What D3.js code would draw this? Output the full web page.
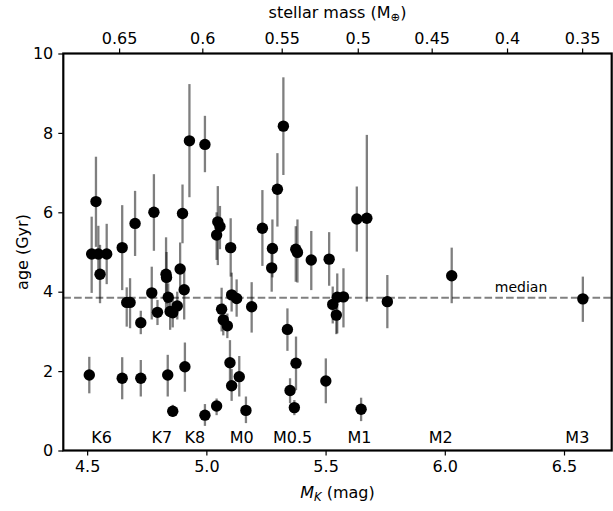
<!DOCTYPE html>
<html>
<head>
<meta charset="utf-8">
<script src="https://cdn.jsdelivr.net/npm/d3@7"></script>
<style>
  body { margin: 0; background: #fff; }
  text { font-family: "DejaVu Sans", sans-serif; }
</style>
</head>
<body>
<svg id="chart" width="613" height="511"></svg>
<script>
// ---- data ----
const mk = [4.509, 4.519, 4.537, 4.547, 4.554, 4.582, 4.647, 4.647, 4.666, 4.680,
            4.701, 4.725, 4.725, 4.771, 4.780, 4.795, 4.831, 4.833, 4.838, 4.840,
            4.848, 4.859, 4.859, 4.878, 4.890, 4.900, 4.907, 4.910, 4.929, 4.994,
            4.994, 5.043, 5.043, 5.048, 5.057, 5.064, 5.071, 5.088, 5.099, 5.102,
            5.106, 5.106, 5.127, 5.138, 5.166, 5.190, 5.235, 5.277, 5.274, 5.298,
            5.323, 5.340, 5.351, 5.369, 5.375, 5.382, 5.376, 5.440, 5.501, 5.515,
            5.530, 5.545, 5.549, 5.575, 5.631, 5.649, 5.673, 5.759, 6.029, 6.579];
const age = [1.90, 4.95, 6.27, 4.95, 4.44, 4.95, 5.11, 1.82, 3.73, 3.73,
             5.72, 3.22, 1.82, 3.97, 6.00, 3.48, 4.44, 4.36, 1.90, 3.86,
             3.50, 3.47, 0.99, 3.64, 4.57, 5.97, 4.05, 2.11, 7.80, 7.71,
             0.89, 5.43, 1.12, 5.76, 5.64, 3.56, 3.29, 3.14, 2.21, 5.11,
             1.63, 3.92, 3.83, 1.86, 1.01, 3.62, 5.60, 5.09, 4.60, 6.58,
             8.17, 3.05, 1.51, 1.08, 5.07, 4.99, 2.20, 4.80, 1.75, 4.82,
             3.68, 3.41, 3.86, 3.87, 5.83, 1.04, 5.85, 3.75, 4.40, 3.82];
const ageLo = [1.44, 3.97, 5.13, 4.30, 3.71, 4.19, 4.04, 1.29, 3.12, 3.08,
               4.90, 2.93, 1.36, 3.30, 5.03, 3.16, 3.54, 3.70, 1.36, 3.50,
               3.04, 3.10, 0.85, 3.30, 4.04, 5.22, 3.30, 1.48, 6.38, 7.01,
               0.62, 4.80, 0.89, 4.67, 5.07, 3.00, 2.90, 2.83, 1.61, 4.38,
               1.25, 3.50, 3.37, 1.36, 0.69, 2.97, 4.65, 4.36, 4.00, 5.64,
               6.94, 2.51, 1.19, 0.89, 4.25, 4.23, 1.52, 4.04, 1.19, 4.15,
               3.20, 2.93, 2.95, 3.10, 5.01, 0.74, 3.75, 3.08, 3.71, 3.24];
const ageHi = [2.36, 5.89, 7.40, 5.66, 5.18, 5.71, 6.18, 2.35, 4.11, 4.34,
               6.54, 3.52, 2.28, 4.63, 6.96, 3.79, 5.37, 5.00, 2.41, 4.21,
               3.96, 3.85, 1.15, 4.00, 5.24, 6.70, 4.61, 2.72, 9.23, 8.43,
               1.17, 6.00, 1.31, 6.66, 6.16, 4.10, 3.70, 3.45, 2.78, 5.85,
               2.05, 4.48, 4.31, 2.38, 1.36, 4.24, 6.56, 5.82, 5.20, 7.49,
               9.40, 3.58, 1.82, 1.27, 5.65, 5.82, 2.87, 5.53, 2.32, 5.50,
               4.13, 3.90, 4.46, 4.59, 6.65, 1.33, 7.95, 4.42, 5.11, 4.38];

const medianAge = 3.85;

const spTypes = ["K6", "K7", "K8", "M0", "M0.5", "M1", "M2", "M3"];
const spTypeMK = [4.561, 4.813, 4.952, 5.148, 5.362, 5.642, 5.983, 6.556];

const massTicks = ["0.65", "0.6", "0.55", "0.5", "0.45", "0.4", "0.35"];
const massTickMK = [4.634, 4.983, 5.316, 5.635, 5.945, 6.261, 6.576];

const xTicks = [4.5, 5.0, 5.5, 6.0, 6.5];
const yTicks = [0, 2, 4, 6, 8, 10];

// ---- layout ----
const W = 613, H = 511;
const m = { left: 63.3, right: 1.3, top: 53.5, bottom: 60.5 };
const svg = d3.select("#chart");

const x = d3.scaleLinear().domain([4.4, 6.7]).range([m.left, W - m.right]);
const y = d3.scaleLinear().domain([0, 10]).range([H - m.bottom, m.top]);

// median line
svg.append("line")
  .attr("x1", x(4.4)).attr("x2", x(6.7))
  .attr("y1", y(medianAge)).attr("y2", y(medianAge))
  .attr("stroke", "#808080").attr("stroke-width", 2)
  .attr("stroke-dasharray", "7.6,3.2");

svg.append("text")
  .attr("x", x(6.32)).attr("y", y(medianAge) - 6)
  .attr("text-anchor", "middle").attr("font-size", 14)
  .text("median");

// error bars + points
const data = mk.map((d, i) => ({ mk: d, age: age[i], lo: ageLo[i], hi: ageHi[i] }));
const g = svg.append("g");
data.forEach(d => {
  g.append("line")
    .attr("x1", x(d.mk)).attr("x2", x(d.mk))
    .attr("y1", y(d.lo)).attr("y2", y(d.hi))
    .attr("stroke", "#000").attr("stroke-opacity", 0.5)
    .attr("stroke-width", 2.3);
  g.append("circle")
    .attr("cx", x(d.mk)).attr("cy", y(d.age)).attr("r", 5.7)
    .attr("fill", "#000");
});

// spectral type labels
svg.append("g").selectAll("text").data(spTypes).join("text")
  .attr("x", (d, i) => x(spTypeMK[i]))
  .attr("y", y(0) - 7.5)
  .attr("text-anchor", "middle").attr("font-size", 16)
  .text(d => d);

// axes
const axB = svg.append("g").attr("transform", `translate(0,${H - m.bottom})`)
  .call(d3.axisBottom(x).tickValues(xTicks).tickFormat(d3.format(".1f")).tickSize(5).tickPadding(5));
const axL = svg.append("g").attr("transform", `translate(${m.left},0)`)
  .call(d3.axisLeft(y).tickValues(yTicks).tickFormat(d3.format("d")).tickSize(5).tickPadding(5));
const axT = svg.append("g").attr("transform", `translate(0,${m.top})`)
  .call(d3.axisTop(x).tickValues(massTickMK).tickFormat((d, i) => massTicks[i]).tickSize(5).tickPadding(5));

[axB, axL, axT].forEach(a => {
  a.select(".domain").remove();
  a.selectAll("text").attr("font-size", 16).attr("fill", "#000").style("font-family", "DejaVu Sans, sans-serif");
  a.selectAll("line").attr("stroke", "#000").attr("stroke-width", 1.2);
});

// frame
svg.append("rect")
  .attr("x", m.left).attr("y", m.top)
  .attr("width", W - m.left - m.right).attr("height", H - m.top - m.bottom)
  .attr("fill", "none").attr("stroke", "#000").attr("stroke-width", 2.2);

// axis titles
const xl = svg.append("text")
  .attr("x", (m.left + W - m.right) / 2).attr("y", 498)
  .attr("text-anchor", "middle").attr("font-size", 16);
xl.append("tspan").attr("font-style", "italic").text("M");
xl.append("tspan").attr("font-style", "italic").attr("font-size", 11.5).attr("dy", 3).text("K");
xl.append("tspan").attr("dy", -3).text(" (mag)");

svg.append("text")
  .attr("transform", `translate(28,${(m.top + H - m.bottom) / 2}) rotate(-90)`)
  .attr("text-anchor", "middle").attr("font-size", 16)
  .text("age (Gyr)");

const tl = svg.append("text")
  .attr("x", (m.left + W - m.right) / 2).attr("y", 18)
  .attr("text-anchor", "middle").attr("font-size", 16);
tl.append("tspan").text("stellar mass (M");
tl.append("tspan").attr("font-size", 11.5).attr("dy", 3).text("⊕");
tl.append("tspan").attr("dy", -3).text(")");
</script>
</body>
</html>
